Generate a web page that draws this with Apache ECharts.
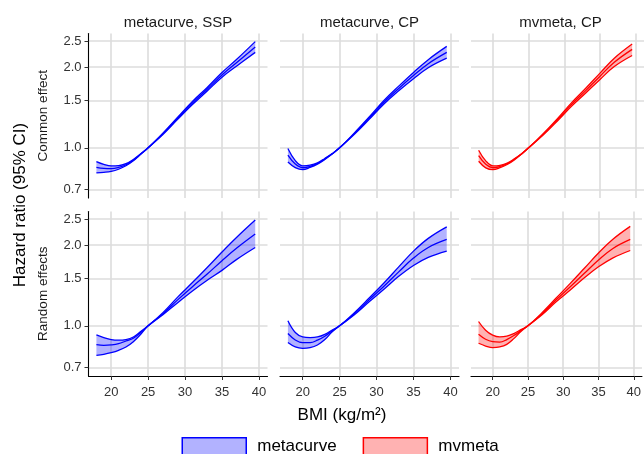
<!DOCTYPE html>
<html><head><meta charset="utf-8">
<script src="https://cdn.jsdelivr.net/npm/echarts@6/dist/echarts.min.js"></script>
<style>html,body{margin:0;padding:0;background:#fff}#c{width:644px;height:454px}</style>
</head><body><div id="c"></div>
<script>
// ---------- data ----------
const bmi = [18,19,20,21,22,23,24,25,27,29,31,33,35,37,39.5];
const yTicks = [0.7,1.0,1.5,2.0,2.5];
const xTicks = [20,25,30,35,40];
const colTitles = ['metacurve, SSP','metacurve, CP','mvmeta, CP'];
const rowTitles = ['Common effect','Random effects'];
const methods = ['metacurve','mvmeta'];

// Common effect
const ssp_common_mid = [0.846,0.838,0.836,0.845,0.865,0.900,0.948,1.0,1.128,1.29,1.47,1.654,1.87,2.08,2.38];
const ssp_common_up  = [0.889,0.868,0.856,0.858,0.873,0.905,0.950,1.0,1.134,1.30,1.49,1.68,1.91,2.14,2.49];
const ssp_common_lo  = [0.806,0.810,0.817,0.832,0.857,0.895,0.946,1.0,1.122,1.278,1.45,1.63,1.835,2.02,2.27];

const mccp_common_mid = [0.939,0.870,0.843,0.853,0.874,0.909,0.950,1.0,1.13,1.29,1.48,1.665,1.86,2.06,2.27];
const mccp_common_up  = [0.994,0.896,0.857,0.862,0.879,0.913,0.952,1.0,1.137,1.303,1.502,1.699,1.911,2.133,2.39];
const mccp_common_lo  = [0.886,0.844,0.829,0.845,0.869,0.905,0.948,1.0,1.123,1.277,1.458,1.632,1.81,1.99,2.16];

const mvcp_common_mid = [0.935,0.868,0.843,0.852,0.872,0.906,0.949,1.0,1.12,1.27,1.45,1.635,1.85,2.085,2.33];
const mvcp_common_up  = [0.98,0.894,0.857,0.861,0.877,0.910,0.951,1.0,1.127,1.283,1.472,1.668,1.90,2.16,2.44];
const mvcp_common_lo  = [0.891,0.842,0.829,0.843,0.867,0.902,0.947,1.0,1.113,1.257,1.428,1.602,1.80,2.01,2.21];

// Random effects
const ssp_random_mid = [0.851,0.846,0.849,0.858,0.878,0.899,0.944,1.0,1.11,1.25,1.40,1.56,1.75,1.95,2.20];
const ssp_random_up  = [0.925,0.904,0.889,0.884,0.889,0.909,0.952,1.0,1.12,1.28,1.45,1.65,1.885,2.14,2.48];
const ssp_random_lo  = [0.776,0.783,0.794,0.810,0.834,0.873,0.930,1.0,1.10,1.22,1.35,1.48,1.61,1.77,1.96];

const mccp_random_mid = [0.936,0.886,0.866,0.866,0.884,0.915,0.958,1.0,1.11,1.25,1.405,1.59,1.79,1.96,2.10];
const mccp_random_up  = [1.044,0.944,0.909,0.904,0.909,0.930,0.965,1.0,1.12,1.27,1.445,1.66,1.90,2.12,2.34];
const mccp_random_lo  = [0.866,0.834,0.824,0.829,0.848,0.889,0.950,1.0,1.10,1.23,1.37,1.53,1.68,1.80,1.90];

const mvcp_random_mid = [0.93,0.891,0.873,0.87,0.889,0.92,0.96,1.0,1.11,1.25,1.40,1.57,1.76,1.94,2.10];
const mvcp_random_up  = [1.038,0.963,0.923,0.909,0.915,0.936,0.968,1.0,1.12,1.27,1.44,1.64,1.87,2.10,2.35];
const mvcp_random_lo  = [0.861,0.841,0.829,0.834,0.853,0.896,0.952,1.0,1.10,1.23,1.36,1.51,1.66,1.79,1.91];

// ---------- layout / style ----------
const FONT = '"Liberation Sans", Arial, sans-serif';
const colLeft = [88.5, 280, 471];
const colW = 179;
const rowTop = [33.5, 211.5];
const rowH = 164.5;
const xMin = 16.93, xMax = 41.16;
const yMin = 0.65, yMax = 2.67;
const lineColor = {metacurve:'#0000ff', mvmeta:'#ff0000'};
const fillColor = {metacurve:'rgba(0,0,255,0.3)', mvmeta:'rgba(255,0,0,0.3)'};

const panels = [
  {row:0,col:0,m:'metacurve',lo:ssp_common_lo,mid:ssp_common_mid,up:ssp_common_up},
  {row:0,col:1,m:'metacurve',lo:mccp_common_lo,mid:mccp_common_mid,up:mccp_common_up},
  {row:0,col:2,m:'mvmeta',lo:mvcp_common_lo,mid:mvcp_common_mid,up:mvcp_common_up},
  {row:1,col:0,m:'metacurve',lo:ssp_random_lo,mid:ssp_random_mid,up:ssp_random_up},
  {row:1,col:1,m:'metacurve',lo:mccp_random_lo,mid:mccp_random_mid,up:mccp_random_up},
  {row:1,col:2,m:'mvmeta',lo:mvcp_random_lo,mid:mvcp_random_mid,up:mvcp_random_up}
];

const ln = Math.log;
const grids = [], xAxes = [], yAxes = [];
const series = [];
// dummy series first so legend icons are full rectangles
methods.forEach(m => series.push({
  type:'custom', name:m, data:[], renderItem:()=>null,
  itemStyle:{color:fillColor[m], borderColor:lineColor[m], borderWidth:1.5}
}));

panels.forEach((p,i) => {
  grids.push({left:colLeft[p.col], top:rowTop[p.row], width:colW, height:rowH, containLabel:false});
  const bottom = p.row === 1, left = p.col === 0;
  xAxes.push({
    type:'value', gridIndex:i, min:xMin, max:xMax,
    axisLine:{show:bottom, onZero:false, lineStyle:{color:'#000', width:1.1}},
    axisTick:{show:bottom, length:4, customValues:xTicks, lineStyle:{color:'#333', width:1}},
    axisLabel:{show:bottom, customValues:xTicks, fontSize:13, color:'#333', fontFamily:FONT, margin:10},
    splitLine:{show:true, lineStyle:{color:'#dcdcdc', width:1.6}}
  });
  yAxes.push({
    type:'value', gridIndex:i, min:ln(yMin), max:ln(yMax),
    axisLine:{show:left, onZero:false, lineStyle:{color:'#000', width:1.1}},
    axisTick:{show:left, length:4, customValues:yTicks.map(ln), lineStyle:{color:'#333', width:1}},
    axisLabel:{show:left, customValues:yTicks.map(ln), fontSize:13, color:'#333', fontFamily:FONT, margin:7,
      formatter: v => Math.exp(v).toFixed(1)},
    splitLine:{show:true, lineStyle:{color:'#dcdcdc', width:1.6}}
  });
  // data rows are [ln(HR), BMI] so the stacked dimension is the y value
  const common = {type:'line', name:p.m, xAxisIndex:i, yAxisIndex:i, symbol:'none', smooth:0.4,
    silent:true, encode:{x:1, y:0}};
  series.push(Object.assign({}, common, {
    stack:'band'+i, stackStrategy:'all',
    data: bmi.map((x,j)=>[ln(p.lo[j]), x]),
    lineStyle:{opacity:0}
  }));
  series.push(Object.assign({}, common, {
    stack:'band'+i, stackStrategy:'all',
    data: bmi.map((x,j)=>[ln(p.up[j]) - ln(p.lo[j]), x]),
    lineStyle:{opacity:0},
    areaStyle:{color:fillColor[p.m], opacity:1}
  }));
  [p.lo, p.mid, p.up].forEach(arr => {
    series.push(Object.assign({}, common, {
      data: bmi.map((x,j)=>[ln(arr[j]), x]),
      lineStyle:{color:lineColor[p.m], width:1.3}
    }));
  });
});

const graphics = [];
colTitles.forEach((t,c) => graphics.push({type:'text', x:colLeft[c]+colW/2, y:23,
  style:{text:t, align:'center', verticalAlign:'middle', font:'15px '+FONT, fill:'#1a1a1a'}}));
rowTitles.forEach((t,r) => graphics.push({type:'text', x:43, y:rowTop[r]+rowH/2, rotation:Math.PI/2,
  style:{text:t, align:'center', verticalAlign:'middle', font:'13.5px '+FONT, fill:'#1a1a1a'}}));
graphics.push({type:'text', x:20, y:205, rotation:Math.PI/2,
  style:{text:'Hazard ratio (95% CI)', align:'center', verticalAlign:'middle', font:'17px '+FONT, fill:'#000'}});
graphics.push({type:'text', x:342, y:415,
  style:{text:'BMI (kg/m²)', align:'center', verticalAlign:'middle', font:'17px '+FONT, fill:'#000'}});

const chart = echarts.init(document.getElementById('c'), null, {renderer:'canvas'});
chart.setOption({
  animation:false,
  backgroundColor:'#fff',
  grid:grids, xAxis:xAxes, yAxis:yAxes,
  legend:{
    left:181.5, top:437, padding:0, orient:'horizontal', itemWidth:64, itemHeight:17, itemGap:26,
    icon:'rect',
    textStyle:{fontSize:17, color:'#000', fontFamily:FONT, padding:[0,0,0,6]},
    data: methods.map(m => ({name:m, icon:'rect',
      itemStyle:{color:fillColor[m], borderColor:lineColor[m], borderWidth:1.5}}))
  },
  graphic:graphics,
  series:series
});
</script></body></html>
